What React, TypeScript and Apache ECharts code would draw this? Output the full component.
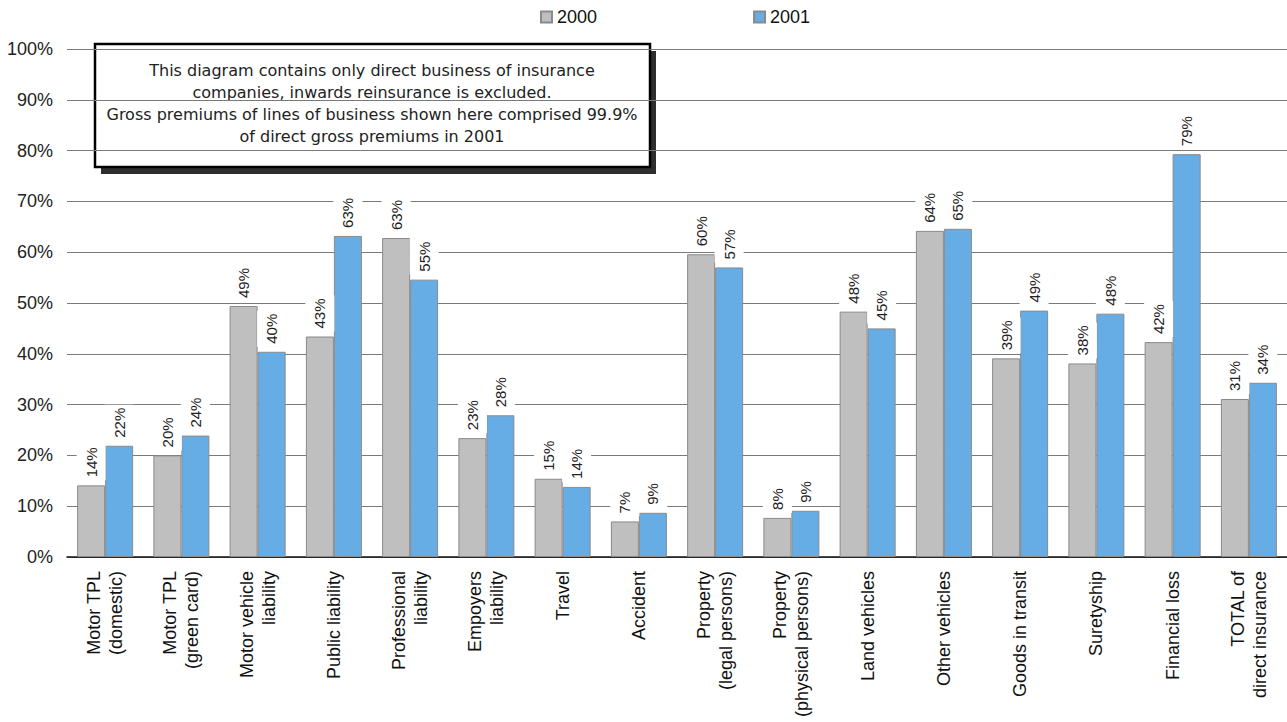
import React, { useEffect, useRef } from "react";
import * as echarts from "echarts";

const categories = [
  "Motor TPL\n(domestic)",
  "Motor TPL\n(green card)",
  "Motor vehicle\nliability",
  "Public liability",
  "Professional\nliability",
  "Empoyers\nliability",
  "Travel",
  "Accident",
  "Property\n(legal persons)",
  "Property\n(physical persons)",
  "Land vehicles",
  "Other vehicles",
  "Goods in transit",
  "Suretyship",
  "Financial loss",
  "TOTAL of\ndirect insurance",
];

const values2000 = [14.1, 20.0, 49.4, 43.4, 62.8, 23.4, 15.4, 7.0, 59.6, 7.7, 48.3, 64.2, 39.1, 38.1, 42.3, 31.1];
const values2001 = [21.9, 23.9, 40.4, 63.2, 54.6, 27.9, 13.8, 8.7, 57.0, 9.1, 45.0, 64.6, 48.5, 47.9, 79.3, 34.3];

const seriesNames = ["2000", "2001"];
const yTicks = { min: 0, max: 100, interval: 10 };

const noteLines = [
  "This diagram contains only direct business of insurance",
  "companies, inwards reinsurance is excluded.",
  "Gross premiums of lines of business shown here comprised 99.9%",
  "of direct gross premiums in 2001",
];

const FONT = "'Liberation Sans', Arial, sans-serif";

export default function App() {
  const ref = useRef<HTMLDivElement>(null);
  useEffect(() => {
    if (!ref.current) return;
    const chart = echarts.init(ref.current, null, { renderer: "svg" });
    const label = {
      show: true,
      position: "top",
      distance: 5,
      rotate: 90,
      align: "left",
      verticalAlign: "middle",
      fontSize: 15,
      fontFamily: FONT,
      color: "#222",
      backgroundColor: "#fff",
      padding: [7, 3, 7, 3],
      formatter: (p: any) => Math.round(p.value) + "%",
    };
    chart.setOption({
      animation: false,
      backgroundColor: "#fff",
      textStyle: { fontFamily: FONT },
      legend: {
        data: seriesNames,
        left: 540,
        top: 8,
        padding: 0,
        itemWidth: 11,
        itemHeight: 11,
        itemGap: 156,
        icon: "rect",
        textStyle: { fontSize: 18, color: "#111", fontFamily: FONT },
      },
      grid: { left: 67, right: 0, top: 49, bottom: 722 - 557 },
      xAxis: {
        type: "category",
        data: categories,
        axisTick: { show: false },
        axisLine: { lineStyle: { color: "#111", width: 1.5 } },
        axisLabel: {
          interval: 0,
          rotate: 90,
          margin: 14,
          fontSize: 18,
          lineHeight: 22,
          color: "#111",
          fontFamily: FONT,
        },
      },
      yAxis: {
        type: "value",
        min: yTicks.min,
        max: yTicks.max,
        interval: yTicks.interval,
        axisLine: { show: false },
        axisTick: { show: false },
        axisLabel: {
          formatter: "{value}%",
          fontSize: 18,
          margin: 14,
          color: "#222",
          fontFamily: FONT,
        },
        splitLine: { lineStyle: { color: "#7a7a7a", width: 1 } },
      },
      series: [
        {
          name: seriesNames[0],
          type: "bar",
          data: values2000,
          barWidth: 28,
          barGap: "0%",
          itemStyle: { color: "#bfbfbf", borderColor: "#8a8a8a", borderWidth: 1 },
          label,
        },
        {
          name: seriesNames[1],
          type: "bar",
          data: values2001,
          barWidth: 28,
          barGap: "0%",
          itemStyle: { color: "#66ade5", borderColor: "#8a8a8a", borderWidth: 1 },
          label,
        },
      ],
      graphic: [
        {
          type: "group",
          z: 100,
          children: [
            {
              type: "rect",
              shape: { x: 101, y: 51, width: 555, height: 123 },
              style: { fill: "#2e2e2e" },
            },
            {
              type: "rect",
              shape: { x: 95, y: 44, width: 555, height: 123 },
              style: { fill: "#fff", stroke: "#000", lineWidth: 2.5 },
            },
            {
              type: "text",
              x: 372,
              y: 59,
              style: {
                text: noteLines.join("\n"),
                align: "center",
                verticalAlign: "top",
                lineHeight: 22,
                fontSize: 16,
                fontFamily: "'DejaVu Sans', Verdana, sans-serif",
                fill: "#222",
              },
            },
          ],
        },
      ],
    });
    return () => chart.dispose();
  }, []);
  return (
    <div
      ref={ref}
      style={{ position: "fixed", left: 0, top: 0, width: 1287, height: 722, background: "#fff" }}
    />
  );
}
